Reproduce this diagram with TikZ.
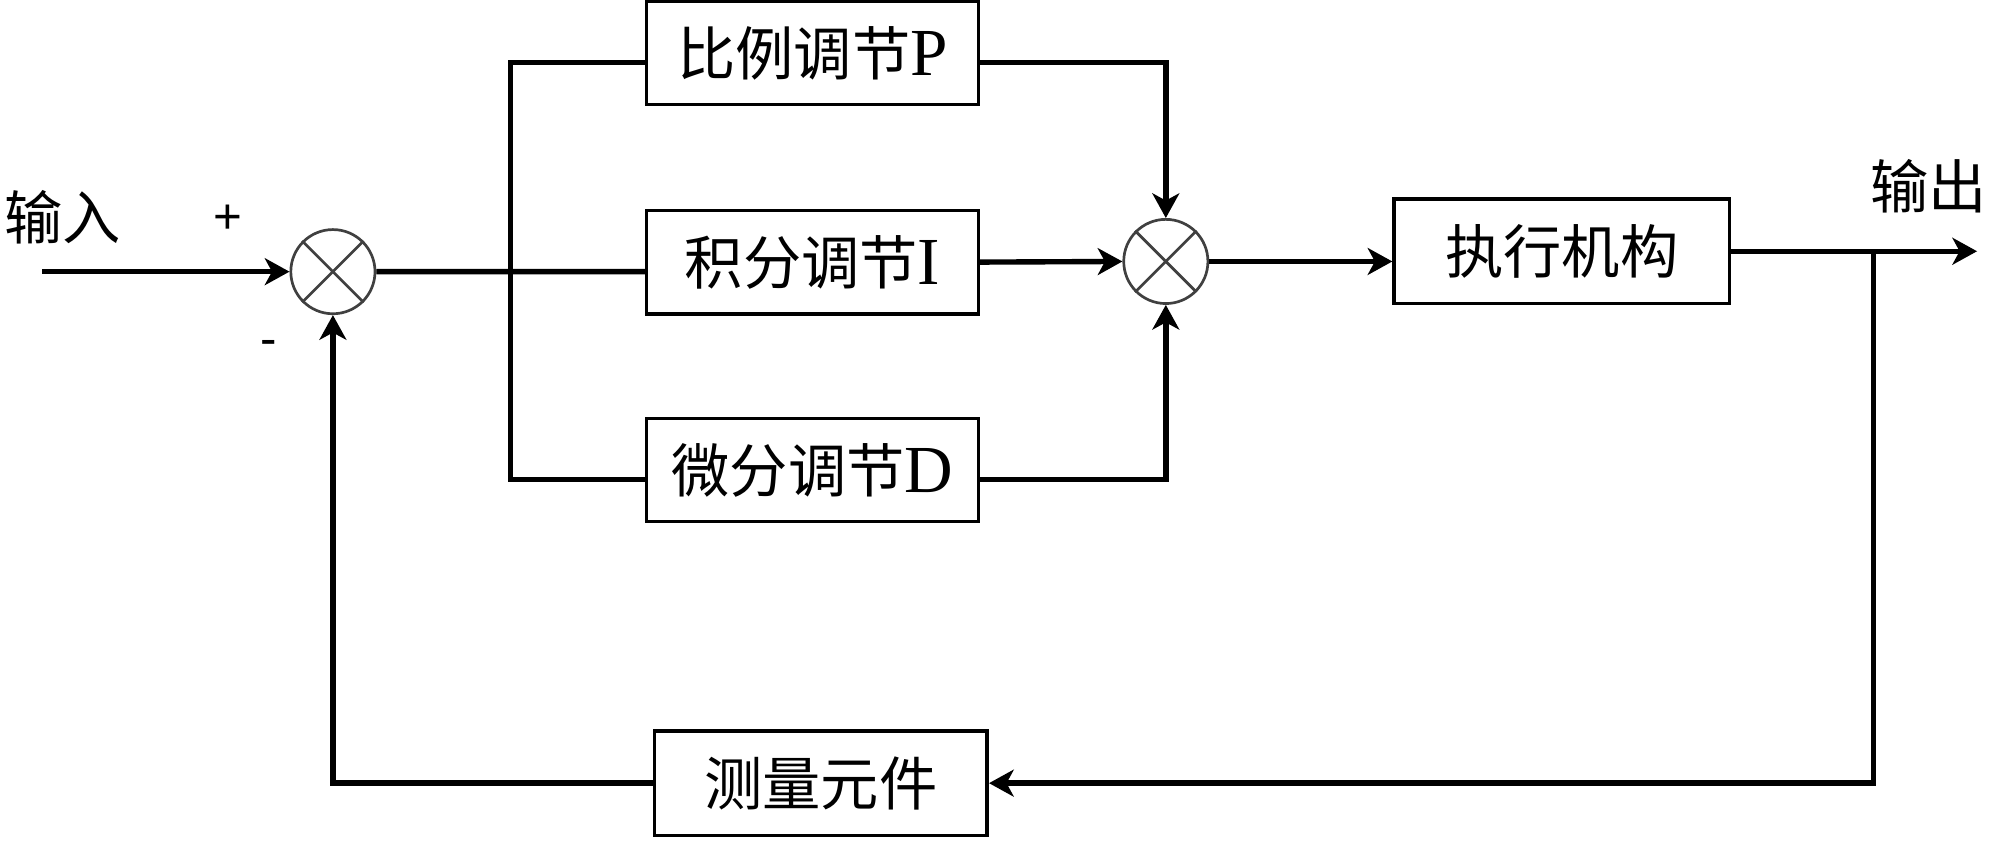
\documentclass[tikz,border=0pt]{standalone}
\usepackage{fontspec}
\setmainfont{Liberation Serif}
\newfontfamily\cjk{Noto Sans CJK SC}
\newfontfamily\signfont{Liberation Sans}
\usetikzlibrary{arrows.meta}
\tikzset{
	block/.style={draw,line width=0.8pt,minimum width=2.6cm,minimum height=0.81cm,inner sep=0pt,font=\fontsize{15}{17}\selectfont},
	sum/.style={draw=black!75,line width=0.6pt,circle,minimum size=0.66cm,inner sep=0pt},
	conn/.style={line width=1.2pt,-{Stealth[length=5.5pt,width=6pt,inset=1.6pt]}},
	line/.style={line width=1.2pt},
	lbl/.style={font=\fontsize{13}{15}\selectfont\cjk,inner sep=0pt},
	sign/.style={font=\fontsize{11}{13}\selectfont\signfont,inner sep=0pt}
}
\begin{document}
\begin{tikzpicture}
	\useasboundingbox (0,0) rectangle (15.68,6.76);
	\node[sum] (s1) at (2.61,4.63) {};
	\node[sum] (s2) at (9.14,4.71) {};
	\draw[black!75,line width=0.6pt] (s1.45) -- (s1.225) (s1.135) -- (s1.315);
	\draw[black!75,line width=0.6pt] (s2.45) -- (s2.225) (s2.135) -- (s2.315);
	
	\node[block] (P) at (6.37,6.345) {{\cjk\fontsize{13}{15}\selectfont 比例调节}P};
	\node[block] (I) at (6.37,4.705) {{\cjk\fontsize{13}{15}\selectfont 积分调节}I};
	\node[block] (D) at (6.37,3.075) {{\cjk\fontsize{13}{15}\selectfont 微分调节}D};
	\node[block,minimum width=2.63cm,minimum height=0.82cm] (act) at (12.245,4.79) {{\cjk\fontsize{13}{15}\selectfont 执行机构}};
	\node[block,minimum width=2.61cm,minimum height=0.82cm] (meas) at (6.435,0.62) {{\cjk\fontsize{13}{15}\selectfont 测量元件}};
	
	\node[lbl] (inlbl) at (0.49,5.06) {输入};
	\node[lbl] (outlbl) at (15.12,5.30) {输出};
	\node[sign] (plus) at (1.79,5.04) {+};
	\node[sign] (minus) at (2.11,4.03) {-};
	
	\coordinate (in) at (0.33,4.63);
	\coordinate (br) at (4.00,4.63);
	\coordinate (fb) at (14.69,4.79);
	\coordinate (out) at (15.50,4.79);
	
	\draw[conn] (in) -- (s1.west);
	\draw[line] (s1.east) -- ([yshift=-0.075cm]I.west);
	\draw[line] ([yshift=-0.075cm]P.west) -| (br) |- ([yshift=-0.075cm]D.west);
	\draw[conn] ([yshift=-0.075cm]P.east) -| (s2.north);
	\draw[conn] (I.east) -- (s2.west);
	\draw[conn] ([yshift=-0.075cm]D.east) -| (s2.south);
	\draw[conn] (s2.east) -- (s2.east -| act.west);
	\draw[conn] (act.east) -- (out);
	\draw[conn] (fb) |- (meas.east);
	\draw[conn] (meas.west) -| (s1.south);
\end{tikzpicture}
\end{document}
